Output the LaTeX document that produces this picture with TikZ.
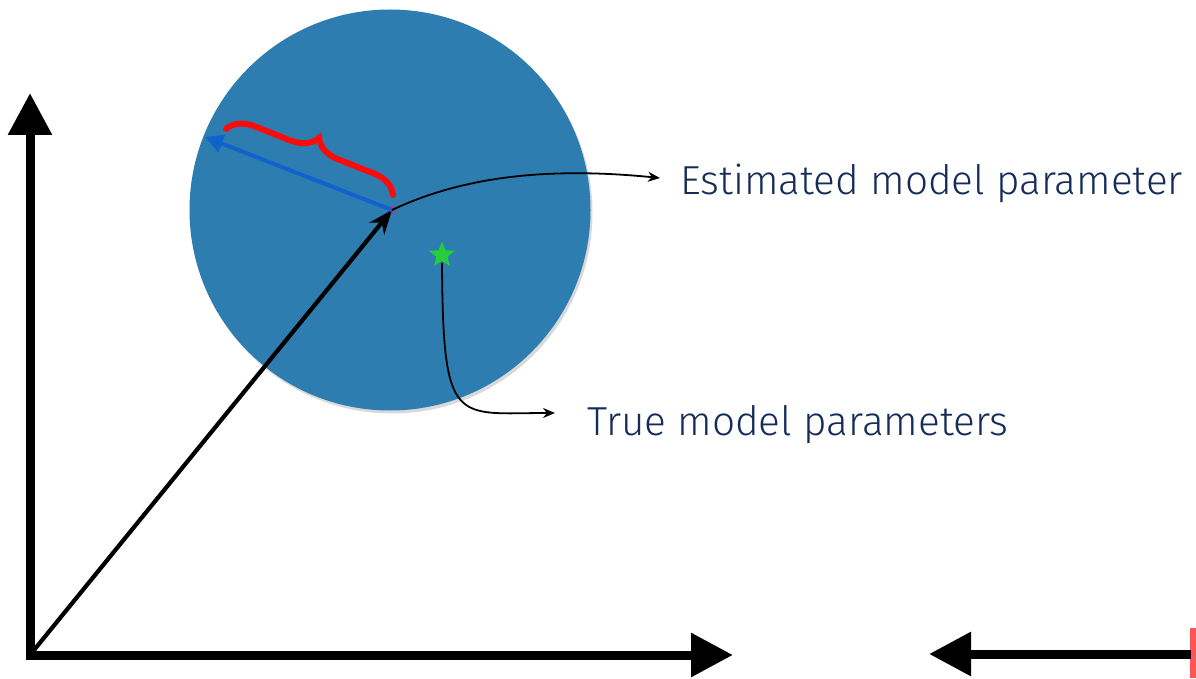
\documentclass[tikz,border=0pt]{standalone}
\usepackage{fontspec}
\setmainfont{Fira Sans Light}
\usepackage{xcolor}
\usepackage{tikz}
\usetikzlibrary{arrows.meta,decorations.pathreplacing,shapes.geometric,shadows}
\definecolor{pmblue}{RGB}{46,125,176}
\definecolor{pmnavy}{RGB}{22,44,88}
\definecolor{pmarrow}{RGB}{18,98,205}
\definecolor{pmred}{RGB}{250,12,12}
\definecolor{pmgreen}{RGB}{40,205,60}
\definecolor{pmpurple}{RGB}{125,80,150}
\tikzset{
  pmaxis/.style={line width=9pt, draw=black},
  pmvec/.style={-{Stealth[length=24pt,width=19pt]}, line width=4.2pt, draw=black},
  pmdir/.style={-{Triangle[length=18pt,width=18pt]}, line width=4pt, draw=pmarrow},
  pmlink/.style={-{Stealth[length=12pt,width=10pt]}, line width=1.8pt, draw=black},
  pmlabel/.style={anchor=west, text=pmnavy, inner sep=0pt, font=\fontsize{40.5}{48}\selectfont}
}

\begin{document}
\begin{tikzpicture}[x=1pt,y=1pt]
  \useasboundingbox (0,0) rectangle (1196,678);
  % parameter region
  \node[circle, minimum size=401pt, inner sep=0pt, fill=pmblue,
    drop shadow={shadow xshift=2pt, shadow yshift=-3pt, opacity=.3}] (region) at (390,468) {};
  % axes
  \coordinate (org) at (30,23);
  \coordinate (ytop) at (30,585);
  \coordinate (xend) at (733,23);
  \draw[pmaxis, {Triangle[width=42pt,length=42pt]}-{Triangle[width=42pt,length=42pt]}] (ytop) -- (org) -- (xend);
  \coordinate (rstart) at (1191,24);
  \coordinate (rend) at (929,24);
  \fill[pmred!70] (1190,0) rectangle (1196,50);
  \draw[pmaxis, -{Triangle[width=42pt,length=42pt]}] (rstart) -- (rend);
  % points
  \node[circle, fill=pmpurple, minimum size=9pt, inner sep=0pt] (est) at (392,468) {};
  \node[star, star points=5, star point ratio=2.3, fill=pmgreen, minimum size=27pt, inner sep=0pt] (true) at (442,423) {};
  \coordinate (dirend) at (205,541);
  \draw[pmvec] (org) -- (est.center);
  \draw[pmdir] (est.center) -- (dirend);
  \draw[pmred, line width=6pt, line cap=round, decorate,
    decoration={brace, amplitude=26pt, aspect=0.5}] (226,549) -- (393,483);
  % labels
  \node[pmlabel] (estlabel) at (680,495) {Estimated model parameter};
  \node[pmlabel] (truelabel) at (587,253) {True model parameters};
  \draw[pmlink] (est.center) .. controls (470,505) and (560,510) .. (660,500);
  \draw[pmlink] (true.center) ++(0,-8) .. controls (443,250) and (455,265) .. (555,265);
\end{tikzpicture}
\end{document}
